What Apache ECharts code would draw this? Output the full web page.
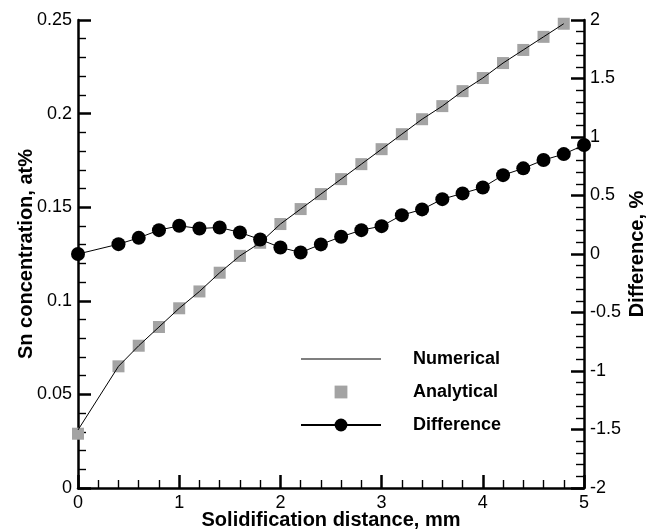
<!DOCTYPE html>
<html>
<head>
<meta charset="utf-8">
<script src="https://cdn.jsdelivr.net/npm/echarts@6/dist/echarts.min.js"></script>
<style>html,body{margin:0;padding:0;background:#fff}#c{width:661px;height:529px}</style>
</head>
<body>
<div id="c"></div>
<script>
const xPts = [0, 0.4, 0.6, 0.8, 1.0, 1.2, 1.4, 1.6, 1.8, 2.0, 2.2, 2.4, 2.6, 2.8, 3.0, 3.2, 3.4, 3.6, 3.8, 4.0, 4.2, 4.4, 4.6, 4.8];
const analytical = [0.029, 0.065, 0.076, 0.086, 0.096, 0.105, 0.115, 0.124, 0.131, 0.141, 0.149, 0.157, 0.165, 0.173, 0.181, 0.189, 0.197, 0.204, 0.212, 0.219, 0.227, 0.234, 0.241, 0.248];
const numerical = [0.031, 0.065, 0.076, 0.086, 0.096, 0.105, 0.115, 0.124, 0.131, 0.141, 0.149, 0.157, 0.165, 0.173, 0.181, 0.189, 0.197, 0.204, 0.212, 0.219, 0.227, 0.234, 0.241, 0.248];
const xDiff = [0, 0.4, 0.6, 0.8, 1.0, 1.2, 1.4, 1.6, 1.8, 2.0, 2.2, 2.4, 2.6, 2.8, 3.0, 3.2, 3.4, 3.6, 3.8, 4.0, 4.2, 4.4, 4.6, 4.8, 5.0];
const difference = [0.0, 0.084, 0.138, 0.204, 0.241, 0.218, 0.227, 0.184, 0.124, 0.056, 0.013, 0.082, 0.147, 0.204, 0.238, 0.332, 0.381, 0.469, 0.518, 0.569, 0.674, 0.732, 0.803, 0.854, 0.931];

const FONT = 'Liberation Sans';
const pairs = (xs, ys) => xs.map((x, i) => [x, ys[i]]);
const axisCommon = {
  axisLine: { show: true, onZero: false, lineStyle: { color: '#000', width: 2.5 } },
  axisTick: { show: true, inside: true, length: 13, lineStyle: { color: '#000', width: 2.5 } },
  minorTick: { show: true, splitNumber: 5, length: 8, lineStyle: { color: '#000', width: 1.4 } },
  splitLine: { show: false },
  axisLabel: { color: '#000', fontFamily: FONT, fontSize: 18, margin: 6 },
  nameTextStyle: { color: '#000', fontFamily: FONT, fontSize: 20, fontWeight: 'bold' },
  nameLocation: 'middle',
  nameMoveOverlap: false
};

const chart = echarts.init(document.getElementById('c'), null, { renderer: 'canvas' });
chart.setOption({
  animation: false,
  backgroundColor: '#fff',
  grid: { left: 78, right: 77, top: 20, bottom: 41, outerBoundsMode: 'none' },
  xAxis: Object.assign({}, axisCommon, {
    type: 'value', min: 0, max: 5, interval: 1,
    name: 'Solidification distance, mm', nameGap: 22
  }),
  yAxis: [
    Object.assign({}, axisCommon, {
      type: 'value', min: 0, max: 0.25, interval: 0.05, position: 'left',
      name: 'Sn concentration, at%', nameGap: 42
    }),
    Object.assign({}, axisCommon, {
      type: 'value', min: -2, max: 2, interval: 0.5, position: 'right',
      name: 'Difference, %', nameGap: 43, nameRotate: 90
    })
  ],
  legend: {
    orient: 'vertical', left: 300, top: 350, padding: 0,
    itemWidth: 80, itemHeight: 16, itemGap: 15,
    textStyle: { color: '#000', fontFamily: FONT, fontSize: 18, fontWeight: 'bold', lineHeight: 18, padding: [0, 0, 0, 27] },
    data: [
      { name: 'Numerical', icon: 'path://M0,0L80,0L80,1L0,1Z', itemStyle: { color: '#000' } },
      'Analytical',
      'Difference'
    ]
  },
  series: [
    {
      name: 'Analytical', type: 'line', yAxisIndex: 0, z: 2,
      data: pairs(xPts, analytical),
      symbol: 'rect', symbolSize: 12,
      itemStyle: { color: '#a3a3a3' },
      lineStyle: { width: 0, opacity: 0 }
    },
    {
      name: 'Numerical', type: 'line', yAxisIndex: 0, z: 3,
      data: pairs(xPts, numerical),
      symbol: 'none', showSymbol: false,
      itemStyle: { color: '#000' },
      lineStyle: { color: '#000', width: 1 }
    },
    {
      name: 'Difference', type: 'line', yAxisIndex: 1, z: 4,
      data: pairs(xDiff, difference),
      symbol: 'circle', symbolSize: 14,
      itemStyle: { color: '#000' },
      lineStyle: { color: '#000', width: 1 }
    }
  ]
});
</script>
</body>
</html>
